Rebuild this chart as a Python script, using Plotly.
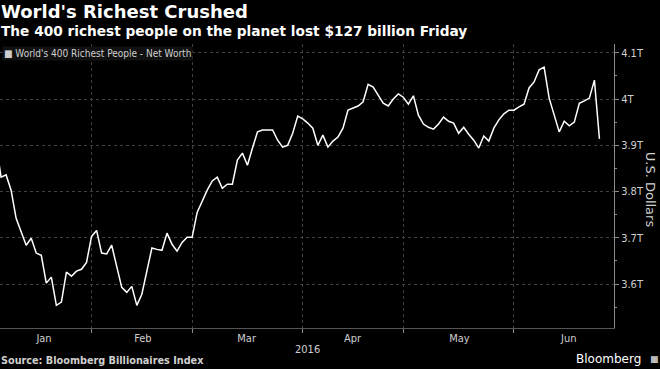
import pandas as pd
import plotly.graph_objects as go

# Trading days Jan 4 - Jun 24, 2016 (US market holidays excluded)
holidays = ["2016-01-01", "2016-01-18", "2016-02-15", "2016-03-25", "2016-05-30"]
dates = pd.bdate_range("2016-01-04", "2016-06-24", freq="C", holidays=holidays)

jan = [3.905, 3.831, 3.836, 3.803, 3.742, 3.712, 3.684, 3.699, 3.667, 3.662,
       3.602, 3.615, 3.554, 3.561, 3.626, 3.617, 3.628, 3.632, 3.647]
feb = [3.703, 3.716, 3.667, 3.665, 3.684, 3.639, 3.593, 3.582, 3.595, 3.554,
       3.578, 3.628, 3.678, 3.675, 3.673, 3.710, 3.686, 3.671, 3.690, 3.701]
mar = [3.701, 3.755, 3.779, 3.803, 3.823, 3.831, 3.807, 3.816, 3.816, 3.868,
       3.883, 3.857, 3.894, 3.929, 3.933, 3.933, 3.933, 3.911, 3.896, 3.900,
       3.926, 3.963]
apr = [3.957, 3.948, 3.937, 3.900, 3.922, 3.896, 3.909, 3.918, 3.937, 3.976,
       3.981, 3.985, 3.994, 4.032, 4.026, 4.009, 3.991, 3.985, 4.000, 4.011,
       4.004]
may = [3.989, 4.007, 3.965, 3.946, 3.939, 3.935, 3.946, 3.961, 3.952, 3.948,
       3.926, 3.939, 3.924, 3.911, 3.894, 3.920, 3.909, 3.937, 3.955, 3.968,
       3.976]
jun = [3.976, 3.983, 3.989, 4.024, 4.037, 4.063, 4.069, 4.002, 3.965, 3.929,
       3.952, 3.942, 3.950, 3.991, 3.996, 4.002, 4.041, 3.914]
net_worth = jan + feb + mar + apr + may + jun  # trillions USD

month_labels = ["Jan", "Feb", "Mar", "Apr", "May", "Jun"]
month_label_pos = ["2016-01-15 13:00", "2016-02-16 05:00", "2016-03-15 20:00",
                   "2016-04-14 21:30", "2016-05-16 04:00", "2016-06-15 21:30"]
y_ticks = [3.6, 3.7, 3.8, 3.9, 4.0, 4.1]
y_tick_labels = ["3.6T", "3.7T", "3.8T", "3.9T", "4T", "4.1T"]

title = "World's Richest Crushed"
subtitle = "The 400 richest people on the planet lost $127 billion Friday"
series_name = "World's 400 Richest People - Net Worth"

fig = go.Figure()
fig.add_trace(go.Scatter(
    x=dates, y=net_worth, mode="lines", name=series_name,
    line=dict(color="#ffffff", width=1.5), showlegend=False,
))

grid_col = "#404040"
axis_col = "#8a8a8a"
tick_font = dict(family="Liberation Sans Narrow, DejaVu Sans Condensed, Arial", size=11, color="#cfcfcf")

fig.update_layout(
    width=660, height=369,
    paper_bgcolor="#000000", plot_bgcolor="#000000",
    margin=dict(l=0, r=46, t=44, b=41),
    showlegend=False,
    xaxis=dict(
        type="date",
        range=["2016-01-04 19:00", "2016-06-28 21:30"],
        rangebreaks=[dict(bounds=["sat", "mon"]), dict(values=holidays)],
        tickvals=month_label_pos, ticktext=month_labels,
        showgrid=False, ticks="",
        minor=dict(dtick="M1", tick0="2016-01-01", ticks="outside", ticklen=4,
                   tickcolor=axis_col, showgrid=True, gridcolor=grid_col,
                   griddash="dot", gridwidth=1),
        showline=True, linecolor="#555555", linewidth=1,
        tickfont=tick_font, zeroline=False,
    ),
    yaxis=dict(
        side="right", range=[3.505, 4.119],
        tickvals=y_ticks, ticktext=y_tick_labels,
        showgrid=True, gridcolor=grid_col, griddash="dot", gridwidth=1,
        ticks="outside", ticklen=4, tickcolor=axis_col,
        minor=dict(dtick=0.05, tick0=3.55, ticks="outside", ticklen=2, tickcolor=axis_col, showgrid=False),
        showline=True, linecolor=axis_col, linewidth=1,
        tickfont=tick_font, zeroline=False,
    ),
)

ann = [
    dict(text="<b>" + title + "</b>", x=-0.002, y=1.116, font=dict(family="DejaVu Sans", size=18, color="#ffffff")),
    dict(text="<b>" + subtitle + "</b>", x=-0.002, y=1.046, font=dict(family="DejaVu Sans", size=13.7, color="#ffffff")),
    dict(text="<b>Source: Bloomberg Billionaires Index</b>", x=-0.002, y=-0.116,
         font=dict(family="DejaVu Sans", size=9.7, color="#cfcfcf")),
    dict(text="\u25A0 " + series_name, x=0.004, y=0.968, bgcolor="#111111",
         font=dict(family="Liberation Sans Narrow, DejaVu Sans Condensed, Arial", size=10, color="#cfcfcf")),
]
for a in ann:
    fig.add_annotation(xref="paper", yref="paper", xanchor="left", yanchor="middle",
                       showarrow=False, **a)

fig.add_annotation(text="2016", xref="paper", yref="paper", x=0.5, y=-0.077,
                   xanchor="center", yanchor="middle", showarrow=False, font=tick_font)
fig.add_annotation(text="U.S. Dollars", xref="paper", yref="paper", x=1.059, y=0.486,
                   xanchor="center", yanchor="middle", showarrow=False, textangle=90,
                   font=dict(family="DejaVu Sans", size=13, color="#cfcfcf"))
fig.add_annotation(text="Bloomberg", xref="paper", yref="paper", x=1.047, y=-0.11,
                   xanchor="right", yanchor="middle", showarrow=False,
                   font=dict(family="DejaVu Sans", size=12, color="#ffffff"))
fig.add_annotation(text="\u25A0", xref="paper", yref="paper", x=1.066, y=-0.11,
                   xanchor="center", yanchor="middle", showarrow=False,
                   font=dict(family="DejaVu Sans", size=9, color="#bbbbbb"))

fig.write_html("out.html", config={"displayModeBar": False},
               post_script="document.body.style.margin='0';")
